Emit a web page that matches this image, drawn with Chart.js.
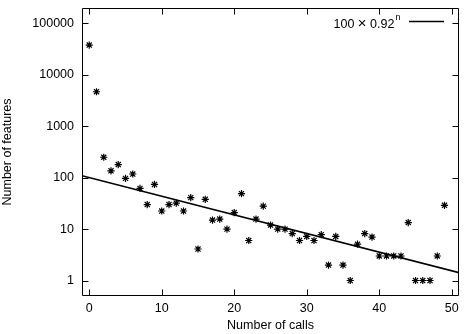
<!DOCTYPE html>
<html>
<head>
<meta charset="utf-8">
<script src="https://cdn.jsdelivr.net/npm/chart.js@4/dist/chart.umd.min.js"></script>
<style>
html,body{margin:0;padding:0;background:#fff;}
#wrap{width:468px;height:334px;}
</style>
</head>
<body>
<div id="wrap"><canvas id="c" width="468" height="334"></canvas></div>
<script>
// ---- data ----
const calls = [0,1,2,3,4,5,6,7,8,9,10,11,12,13,14,15,16,17,18,19,20,21,22,23,24,25,26,27,28,29,30,31,32,33,34,35,36,37,38,39,40,41,42,43,44,45,46,47,48,49];
const features = [38000,4700,250,136,180,97,118,62,30,74,22.5,30,32,22.5,41,4.1,38,15,15.7,10,21,49,6,15.7,28,12,10,10,8.2,6,7.2,6,7.8,2,7.2,2,1,5.1,8.2,7,3,3,3,3,13.4,1,1,1,3,29];
const xTicks = [0,10,20,30,40,50];
const yTicks = [1,10,100,1000,10000,100000];
const fitA = 100, fitB = 0.92;          // fit: 100 x 0.92^n
const fitRange = [-1, 51];
const xTitle = 'Number of calls';
const yTitle = 'Number of features';
const legendParts = ['100 ', '\u00D7', ' 0.92'];
const legendSup = 'n';

const FONT = 'Liberation Sans, Arial, sans-serif';
const points = calls.map((n,i)=>({x:n, y:features[i]}));
const fitLine = fitRange.map(n=>({x:n, y:fitA*Math.pow(fitB,n)}));

const framePlugin = {
  id:'frame',
  afterDatasetsDraw(chart){
    const {ctx, chartArea:a, scales:{x,y}} = chart;
    ctx.save();
    ctx.strokeStyle='#000';
    ctx.lineWidth=1;
    const L=Math.round(a.left)+0.5, R=Math.round(a.right)-0.5, T=Math.round(a.top)+0.5, B=Math.round(a.bottom)-0.5;
    ctx.beginPath();
    ctx.rect(L,T,R-L,B-T);
    const tl=6;
    xTicks.forEach(v=>{const p=Math.round(x.getPixelForValue(v))+0.5;
      ctx.moveTo(p,B);ctx.lineTo(p,B-tl);ctx.moveTo(p,T);ctx.lineTo(p,T+tl);});
    yTicks.forEach(v=>{const p=Math.round(y.getPixelForValue(v))+0.5;
      ctx.moveTo(L,p);ctx.lineTo(L+tl,p);ctx.moveTo(R,p);ctx.lineTo(R-tl,p);});
    ctx.stroke();
    // legend
    ctx.fillStyle='#000';
    ctx.textBaseline='alphabetic';
    ctx.textAlign='left';
    const sizes=[12.5,15,12.5];
    let cx=333.5;
    legendParts.forEach((t,i)=>{ctx.font=sizes[i]+'px '+FONT; ctx.fillText(t,cx,27.5); cx+=ctx.measureText(t).width;});
    ctx.font='9px '+FONT;
    ctx.fillText(legendSup, cx+1, 20);
    ctx.lineWidth=1.5;
    ctx.beginPath();ctx.moveTo(409,21.5);ctx.lineTo(444,21.5);ctx.stroke();
    ctx.restore();
  }
};

new Chart(document.getElementById('c'), {
  type:'scatter',
  data:{datasets:[
    {data:points, pointStyle:'star', pointRadius:3.6, borderColor:'#000', backgroundColor:'#000', borderWidth:1.2, showLine:false},
    {type:'line', data:fitLine, borderColor:'#000', borderWidth:1.5, pointRadius:0, fill:false, tension:0}
  ]},
  options:{
    responsive:false, animation:false, devicePixelRatio:1,
    layout:{padding:{top:8,right:9,left:0,bottom:0}},
    plugins:{legend:{display:false}, tooltip:{enabled:false}},
    scales:{
      x:{type:'linear', min:fitRange[0], max:fitRange[1],
        afterBuildTicks(s){s.ticks=xTicks.map(v=>({value:v}));},
        afterFit(s){s.height=38; s.paddingLeft=0; s.paddingRight=0;},
        grid:{display:false, drawTicks:false}, border:{display:false},
        ticks:{color:'#000', font:{family:FONT,size:12.5}, padding:5, maxRotation:0, autoSkip:false},
        title:{display:true, text:xTitle, color:'#000', font:{family:FONT,size:12.5}, padding:{top:0,bottom:1}}
      },
      y:{type:'logarithmic', min:0.5, max:200000,
        afterBuildTicks(s){s.ticks=yTicks.map(v=>({value:v}));},
        afterFit(s){s.width=82; s.paddingTop=0; s.paddingBottom=0;},
        grid:{display:false, drawTicks:false}, border:{display:false},
        ticks:{color:'#000', font:{family:FONT,size:12.5}, padding:8, autoSkip:false, callback:(v)=>String(v)},
        title:{display:true, text:yTitle, color:'#000', font:{family:FONT,size:12.5}, padding:{top:0.5,bottom:0}}
      }
    }
  },
  plugins:[framePlugin]
});
</script>
</body>
</html>
